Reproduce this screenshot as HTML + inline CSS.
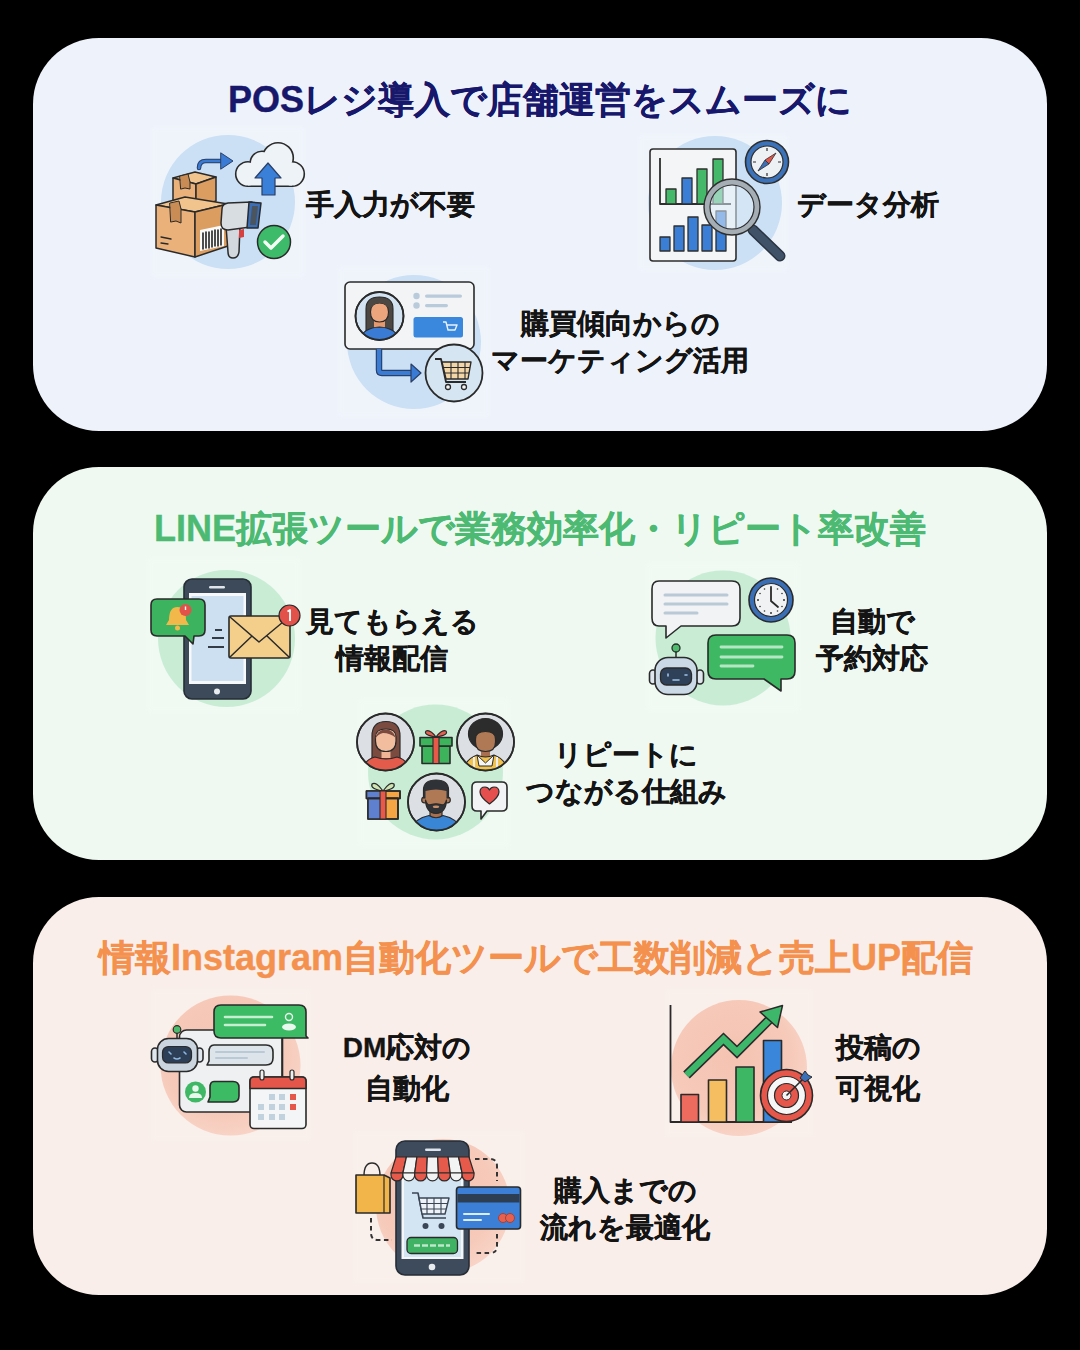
<!DOCTYPE html>
<html lang="ja">
<head>
<meta charset="utf-8">
<style>
html,body{margin:0;padding:0;background:#000;}
body{width:1080px;height:1350px;position:relative;overflow:hidden;font-family:"Liberation Sans",sans-serif;}
.panel{position:absolute;left:33px;width:1014px;border-radius:66px;}
#p1{top:38px;height:393px;background:#eef3fb;}
#p2{top:467px;height:393px;background:#eff9f1;}
#p3{top:897px;height:398px;background:#f9eee9;}
.title{position:absolute;left:0;width:1080px;text-align:center;font-size:36px;font-weight:700;-webkit-text-stroke:0.4px currentColor;line-height:40px;white-space:nowrap;}
.lbl{position:absolute;font-size:28px;font-weight:700;line-height:37px;color:#141414;-webkit-text-stroke:0.3px #141414;text-align:center;white-space:nowrap;}
svg#art{position:absolute;left:0;top:0;}
</style>
</head>
<body>
<div class="panel" id="p1"></div>
<div class="panel" id="p2"></div>
<div class="panel" id="p3"></div>

<svg id="art" width="1080" height="1350" viewBox="0 0 1080 1350">
<defs>
<radialGradient id="gs" cx="0.45" cy="0.42" r="0.6"><stop offset="0" stop-color="#f5c3b2"/><stop offset="0.7" stop-color="#f6c9b9"/><stop offset="1" stop-color="#f8d4c7"/></radialGradient>
<filter id="sb" x="-20%" y="-20%" width="140%" height="140%"><feGaussianBlur stdDeviation="2.5"/></filter>
</defs>
<g id="squares" fill="#ffffff" opacity="0.1" filter="url(#sb)">
<rect x="151" y="126" width="154" height="152"/>
<rect x="638" y="134" width="150" height="138"/>
<rect x="338" y="266" width="152" height="152"/>
<rect x="147" y="557" width="154" height="156"/>
<rect x="646" y="562" width="154" height="150"/>
<rect x="358" y="698" width="152" height="150"/>
<rect x="150" y="988" width="162" height="154"/>
<rect x="664" y="988" width="150" height="150"/>
<rect x="352" y="1130" width="174" height="154"/>
</g>
<g id="circles">
<circle cx="228" cy="202" r="67" fill="#cbe0f4"/>
<circle cx="715" cy="203" r="67" fill="#cbe0f4"/>
<circle cx="414" cy="342" r="67" fill="#cbe0f4"/>
<circle cx="226.5" cy="638.5" r="68.5" fill="#c8edd4"/>
<circle cx="723" cy="638" r="67.5" fill="#c8edd4"/>
<circle cx="435.5" cy="772" r="67.5" fill="#c8edd4"/>
<circle cx="230.5" cy="1065.5" r="70" fill="url(#gs)"/>
<circle cx="739" cy="1068" r="68" fill="url(#gs)"/>
<circle cx="443" cy="1206" r="67" fill="url(#gs)"/>
</g>
<!-- ICON P1-1: boxes/scanner/cloud -->
<g id="i11" stroke="#2a2a2a" stroke-width="1.5" stroke-linejoin="round" stroke-linecap="round">
  <!-- arrow -->
  <path d="M199,168 Q199,161 206,161 L223,161" fill="none" stroke="#2a3f66" stroke-width="4.6"/>
  <path d="M199,168 Q199,161 206,161 L223,161" fill="none" stroke="#3a7bd5" stroke-width="2.6" />
  <path d="M221,153 L233,161 L221,169 Z" fill="#3a7bd5" stroke="#2a3f66" stroke-width="1"/>
  <!-- cloud -->
  <g stroke="#2a2a2a" stroke-width="3.2">
    <circle cx="248" cy="174" r="11.5"/><circle cx="262" cy="163" r="11"/><circle cx="278" cy="158" r="14.5"/><circle cx="292" cy="174" r="11.5"/><rect x="248" y="168" width="44" height="17.5"/>
  </g>
  <g fill="#eef3f8" stroke="none">
    <circle cx="248" cy="174" r="11.5"/><circle cx="262" cy="163" r="11"/><circle cx="278" cy="158" r="14.5"/><circle cx="292" cy="174" r="11.5"/><rect x="248" y="168" width="44" height="17.5"/>
  </g>
  <path d="M255,178 L268,163 L281,178 L275,178 L275,195 L262,195 L262,178 Z" fill="#3a7fd8" stroke="#2a3f66" stroke-width="1.2"/>
  <!-- small box -->
  <path d="M173,178 L195,172 L216,177 L196,184 Z" fill="#f1c48d"/>
  <path d="M173,178 L196,184 L196,208 L173,202 Z" fill="#eab27a"/>
  <path d="M196,184 L216,177 L216,201 L196,208 Z" fill="#dc9d60"/>
  <path d="M180,176 L188,174 L190,182 L190,189 L185,188 L181,189 Z" fill="#c98c55" stroke-width="1"/>
  <!-- big box -->
  <path d="M156,205 L185,197 L228,204 L195,212 Z" fill="#f1c48d"/>
  <path d="M156,205 L195,212 L195,257 L156,248 Z" fill="#eab27a"/>
  <path d="M195,212 L228,204 L228,246 L195,257 Z" fill="#dc9d60"/>
  <path d="M170,203 L179,201 L181,209 L181,223 L176,221 L171,222 Z" fill="#c98c55" stroke-width="1"/>
  <path d="M161,237 L171,239 M161,243 L168,244" stroke-width="1.3"/>
  <path d="M200,230 L224,225 L224,246 L200,251 Z" fill="#fafafa" stroke="none"/>
  <path d="M203,233 V249 M206,232 V248 M209,232 V248 M212,231 V247 M215,230 V246 M218,230 V246 M221,229 V245" stroke="#222" stroke-width="1.6"/>
  <!-- scanner -->
  <path d="M226,226 L240,226 L239,252 Q238,258 233,258 Q228,258 228,252 Z" fill="#d3d8de"/>
  <path d="M239,230 L244,229 L244,237 L239,238 Z" fill="#d64040" stroke="none"/>
  <path d="M222,209 Q222,204 228,203 L252,202 L258,226 L228,230 Q221,230 221,223 Z" fill="#d8dde2"/>
  <path d="M249,202 L261,203 L258,228 L247,228 Z" fill="#3b6fb8"/>
  <path d="M252,206 L258,206 L256,225 L250,225 Z" fill="#4a5560" stroke="none"/>
  <!-- check -->
  <circle cx="274" cy="242" r="16.5" fill="#3dba6a"/>
  <path d="M265,242 L271,248 L283,236" fill="none" stroke="#f4fff6" stroke-width="3.5"/>
</g>

<!-- ICON P1-2: data analysis -->
<g id="i12" stroke="#2e2e2e" stroke-width="1.6" stroke-linejoin="round">
  <rect x="650" y="149" width="86" height="112" rx="3" fill="#f4f5f6"/>
  <path d="M660,158 V204 H731" fill="none" stroke-width="1.8"/>
  <g stroke-width="1.3">
    <rect x="666" y="189" width="10" height="15" fill="#45b86a"/>
    <rect x="682" y="178" width="10" height="26" fill="#3a7fd5"/>
    <rect x="697" y="169" width="10" height="35" fill="#45b86a"/>
    <rect x="713" y="159" width="10" height="45" fill="#45b86a"/>
    <rect x="660" y="237" width="10" height="14" fill="#3a7fd5"/>
    <rect x="674" y="226" width="10" height="25" fill="#3a7fd5"/>
    <rect x="688" y="217" width="10" height="34" fill="#3a7fd5"/>
    <rect x="702" y="225" width="10" height="26" fill="#3a7fd5"/>
    <rect x="716" y="211" width="10" height="40" fill="#3a7fd5"/>
  </g>
  <!-- compass -->
  <circle cx="767" cy="162" r="21.5" fill="#3c72b8" stroke-width="1.6"/>
  <circle cx="767" cy="162" r="16" fill="#eef1f4" stroke-width="1.2"/>
  <path d="M767,148 V151 M767,173 V176 M753,162 H756 M778,162 H781" stroke-width="1.2"/>
  <path d="M776,153 L769,164 L765,160 Z" fill="#e0574a" stroke-width="0.8"/>
  <path d="M758,171 L765,160 L769,164 Z" fill="#3c6fb5" stroke-width="0.8"/>
  <!-- magnifier -->
  <path d="M753,230 L780,256" stroke="#2a3442" stroke-width="11" stroke-linecap="round"/>
  <path d="M753,230 L780,256" stroke="#3f5268" stroke-width="8" stroke-linecap="round"/>
  <circle cx="732" cy="207" r="25" fill="rgba(220,235,248,0.55)" stroke="#a5adb5" stroke-width="6"/>
  <circle cx="732" cy="207" r="28" fill="none" stroke-width="1.4"/>
  <circle cx="732" cy="207" r="22" fill="none" stroke-width="1.2"/>
</g>

<!-- ICON P1-3: customer card -->
<g id="i13" stroke="#2a2a2a" stroke-width="1.6" stroke-linejoin="round">
  <rect x="345" y="282" width="129" height="67" rx="5" fill="#f2f4f6"/>
  <clipPath id="cp13"><circle cx="379.5" cy="316" r="24"/></clipPath>
  <circle cx="379.5" cy="316" r="24" fill="#d3e3f2"/>
  <g clip-path="url(#cp13)" stroke-width="1.1">
    <path d="M366,331 V309 Q366,297 379.5,297 Q393,297 393,309 V331 Z" fill="#4d4743"/>
    <path d="M374,319 H385 V329 H374 Z" fill="#e39a70" stroke="none"/>
    <path d="M370.5,312 Q370.5,303 379.5,303 Q388.5,303 388.5,312 Q388.5,322 379.5,322 Q370.5,322 370.5,312 Z" fill="#eca57c"/>
    <path d="M370,309 Q372,299 380,300 Q387,300 389,309 Q385,303 380,303 Q374,303 370,309 Z" fill="#4d4743" stroke="none"/>
    <path d="M358,345 Q360,328 379.5,327 Q399,328 401,345 Z" fill="#3a7bd5"/>
  </g>
  <circle cx="379.5" cy="316" r="24" fill="none" stroke-width="1.8"/>
  <g stroke="none" fill="#b9cadb">
    <circle cx="416.5" cy="296" r="3.2"/><rect x="425" y="294.5" width="37" height="3.2" rx="1.6"/>
    <circle cx="416.5" cy="305.5" r="3.2"/><rect x="425" y="304" width="23" height="3.2" rx="1.6"/>
  </g>
  <rect x="413.5" y="317" width="49.5" height="20.5" rx="2.5" fill="#3a87de" stroke="none"/>
  <path d="M443,322 L446,322 L448,330 L455,330 L457,325 L447,325" fill="none" stroke="#e8f2fc" stroke-width="1.4"/>
  <!-- arrow -->
  <path d="M379,349 V370 Q379,373 382,373 H413" fill="none" stroke="#2a3f66" stroke-width="6.5"/>
  <path d="M379,349 V370 Q379,373 382,373 H413" fill="none" stroke="#3a7bd5" stroke-width="4.2"/>
  <path d="M411,364 L421,373 L411,382 Z" fill="#3a7bd5" stroke="#2a3f66" stroke-width="1.2"/>
  <!-- cart circle -->
  <circle cx="454" cy="373" r="28.5" fill="#d6e5f2" stroke-width="1.8"/>
  <path d="M435,359 H441 L446,382 H466" fill="none" stroke-width="1.8"/>
  <path d="M442,362 H471 L468,379 H446 Z" fill="#f2d6a8" stroke-width="1.4"/>
  <path d="M443,367.5 H470 M444,373 H469 M451,362 V379 M458,362 V379 M465,362 V379" stroke-width="1.1"/>
  <circle cx="448" cy="387" r="2.5" fill="#f4f4f4" stroke-width="1.3"/>
  <circle cx="464" cy="387" r="2.5" fill="#f4f4f4" stroke-width="1.3"/>
</g>
<!-- ICON P2-1: phone + notifications -->
<g id="i21" stroke="#2a2a2a" stroke-width="1.6" stroke-linejoin="round">
  <rect x="184" y="579" width="67" height="120" rx="8" fill="#3d4a5a" stroke="#262d36"/>
  <rect x="189" y="593" width="57" height="91" fill="#f6f8fa" stroke="none"/>
  <rect x="191.5" y="596" width="52" height="85" fill="#cde0f2" stroke="none"/>
  <rect x="209" y="586" width="16" height="2.5" rx="1.2" fill="#dfe5ea" stroke="none"/>
  <circle cx="217" cy="691.5" r="3" fill="#e8ecef" stroke="none"/>
  <path d="M215,630 H222 M212,638 H224 M208,647 H224" stroke="#333b45" stroke-width="1.8"/>
  <!-- green bubble -->
  <path d="M157,599 H199 Q205,599 205,605 V630 Q205,636 199,636 H194 L193,644 L185,636 H157 Q151,636 151,630 V605 Q151,599 157,599 Z" fill="#3cb35e"/>
  <path d="M169,620 Q169,607 177.5,607 Q186,607 186,620 L189,625 H166 Z" fill="#f2b94a" stroke="none"/>
  <circle cx="177.5" cy="628" r="2.5" fill="#f2b94a" stroke="none"/>
  <circle cx="185.5" cy="610" r="6" fill="#e2524a" stroke="none"/>
  <path d="M185.5,606.5 V610" stroke="#fff" stroke-width="1.4"/>
  <!-- envelope -->
  <rect x="229" y="616" width="61" height="42" rx="2" fill="#f4cf8b"/>
  <path d="M230,617 L259,642 L289,617 M230,657 L252,636 M289,657 L267,636" fill="none" stroke-width="1.5"/>
  <circle cx="289.5" cy="615.5" r="10.5" fill="#e2524a" stroke-width="1.2"/>
  <path d="M287.5,611.5 L290,610 V621" fill="none" stroke="#fff" stroke-width="1.8"/>
</g>

<!-- ICON P2-2: chat bubbles + robot + clock -->
<g id="i22" stroke="#2a2a2a" stroke-width="1.6" stroke-linejoin="round">
  <path d="M659,581 H732 Q740,581 740,589 V618 Q740,626 732,626 H681 L666,638 L666,626 H659 Q652,626 652,618 V589 Q652,581 659,581 Z" fill="#f1f3f5"/>
  <g stroke="#b9c9d5" stroke-width="3" stroke-linecap="round">
    <path d="M665,595 H727 M665,604 H727 M665,613 H697"/>
  </g>
  <!-- clock -->
  <circle cx="771" cy="600" r="22" fill="#3b6fb5"/>
  <circle cx="771" cy="600" r="16.5" fill="#f0f2f4" stroke-width="1.2"/>
  <path d="M771,588 V601 L778,607" fill="none" stroke-width="1.8" stroke-linecap="round"/>
  <g fill="#333" stroke="none">
    <circle cx="771" cy="587" r="1"/><circle cx="771" cy="613" r="1"/><circle cx="758" cy="600" r="1"/><circle cx="784" cy="600" r="1"/>
    <circle cx="764.5" cy="589" r="0.8"/><circle cx="777.5" cy="589" r="0.8"/><circle cx="764.5" cy="611" r="0.8"/><circle cx="777.5" cy="611" r="0.8"/>
    <circle cx="760" cy="593.5" r="0.8"/><circle cx="782" cy="593.5" r="0.8"/><circle cx="760" cy="606.5" r="0.8"/><circle cx="782" cy="606.5" r="0.8"/>
  </g>
  <!-- green bubble -->
  <path d="M716,635 H787 Q795,635 795,643 V671 Q795,679 787,679 H781 L781,691 L764,679 H716 Q708,679 708,671 V643 Q708,635 716,635 Z" fill="#3eb862"/>
  <g stroke="#b5e6c3" stroke-width="2.8" stroke-linecap="round">
    <path d="M721,647 H782 M721,657 H782 M721,666 H753"/>
  </g>
  <!-- robot -->
  <path d="M676,657 V650" stroke-width="1.5"/>
  <circle cx="676" cy="648" r="4" fill="#4cbb6c" stroke-width="1.3"/>
  <rect x="649.5" y="670" width="7" height="14" rx="3.5" fill="#dfe6ee"/>
  <rect x="696.5" y="670" width="7" height="14" rx="3.5" fill="#dfe6ee"/>
  <rect x="655" y="657.5" width="42" height="37" rx="13" fill="#cbd8e6"/>
  <rect x="660.5" y="668" width="31" height="17" rx="6" fill="#2f4159" stroke-width="1.3"/>
  <path d="M668,674 V676 M685,675 H687 M673,680 H679" stroke="#9fc3e8" stroke-width="1.6" stroke-linecap="round"/>
</g>

<!-- ICON P2-3: people + gifts -->
<g id="i23" stroke="#2a2a2a" stroke-width="1.6" stroke-linejoin="round">
  <defs>
    <clipPath id="cw"><circle cx="385.5" cy="742" r="28.5"/></clipPath>
    <clipPath id="ca"><circle cx="485.5" cy="742" r="28.5"/></clipPath>
    <clipPath id="cb"><circle cx="436.5" cy="802" r="28.5"/></clipPath>
  </defs>
  <!-- woman -->
  <circle cx="385.5" cy="742" r="28.5" fill="#dcdfe3"/>
  <g clip-path="url(#cw)" stroke-width="1.2">
    <path d="M372,760 V736 Q372,721.5 386,721.5 Q400,721.5 400,736 V760 Z" fill="#7b4b40"/>
    <path d="M381.5,749 H390.5 V758 H381.5 Z" fill="#f0b596" stroke="none"/>
    <path d="M375.5,737 Q375.5,729 386,729 Q396,729 396,737 V741 Q396,751.5 386,751.5 Q375.5,751.5 375.5,741 Z" fill="#f2bd9e"/>
    <path d="M375,739 Q377,730 385,729.5 Q393,729 396,738 Q390,733 383,733 Q378,734 375,739 Z" fill="#7b4b40" stroke="none"/>
    <path d="M360,778 Q362,760 375,757 Q386,761 397,757 Q410,760 412,778 Z" fill="#e35b4b"/>
  </g>
  <circle cx="385.5" cy="742" r="28.5" fill="none" stroke-width="1.8"/>
  <!-- gift 1 -->
  <path d="M436,737 Q430,729 426,731 Q423,735 436,737 Q449,735 446,731 Q442,729 436,737 Z" fill="#e86050" stroke-width="1.2"/>
  <rect x="422" y="746" width="28" height="17.5" fill="#3db35c"/>
  <rect x="420" y="737.5" width="32" height="8.5" fill="#3db35c"/>
  <rect x="433" y="737.5" width="6" height="26" fill="#e8594a" stroke-width="1.1"/>
  <!-- afro man -->
  <circle cx="485.5" cy="742" r="28.5" fill="#dcdfe3"/>
  <g clip-path="url(#ca)" stroke-width="1.2">
    <ellipse cx="485.5" cy="734" rx="17" ry="15.5" fill="#2c2c2c"/>
    <path d="M481,748 H490 V757 H481 Z" fill="#a87050" stroke="none"/>
    <path d="M475.5,739 Q475.5,731.5 485.5,731.5 Q495.5,731.5 495.5,739 V742 Q495.5,751.5 485.5,751.5 Q475.5,751.5 475.5,742 Z" fill="#b07955"/>
    <path d="M461,778 Q463,760 477,755 Q485.5,759 494,755 Q508,760 510,778 Z" fill="#f1c24d"/>
    <path d="M477,755 L485.5,763 L494,755 L492,766 H479 Z" fill="#f6f6f6" stroke-width="1"/>
    <path d="M474,757 V778 M497,757 V778" stroke="#eeeeee" stroke-width="2"/>
  </g>
  <circle cx="485.5" cy="742" r="28.5" fill="none" stroke-width="1.8"/>
  <!-- gift 2 -->
  <path d="M383,791 Q376,781 372,784 Q370,789 383,791 Q396,789 394,784 Q390,781 383,791 Z" fill="#cfe4b0" stroke-width="1.2"/>
  <rect x="368" y="798" width="30" height="21" fill="#f5a544"/>
  <rect x="368" y="798" width="12" height="21" fill="#5f80cf" stroke="none"/>
  <rect x="366.5" y="791" width="33.5" height="7.5" fill="#f5a544"/>
  <rect x="366.5" y="791" width="13" height="7.5" fill="#5f80cf" stroke="none"/>
  <rect x="366.5" y="791" width="33.5" height="7.5" fill="none"/>
  <rect x="368" y="798" width="30" height="21" fill="none"/>
  <rect x="380" y="791" width="6" height="28" fill="#e8594a" stroke-width="1.1"/>
  <!-- bearded man -->
  <circle cx="436.5" cy="802" r="28.5" fill="#dcdfe3"/>
  <g clip-path="url(#cb)" stroke-width="1.2">
    <path d="M430,809 H442 V819 H430 Z" fill="#a87050"/>
    <circle cx="424.5" cy="800" r="2.8" fill="#b07955"/>
    <circle cx="447.5" cy="800" r="2.8" fill="#b07955"/>
    <path d="M423.5,798 V790 Q423.5,780 436,780 Q448.5,780 448.5,790 V798 Z" fill="#2f3237"/>
    <path d="M425.5,791 Q436,788 446.5,791 V802 Q446.5,812 436,812 Q425.5,812 425.5,802 Z" fill="#b07955" stroke="none"/>
    <path d="M425.5,800 Q426,813 436,813.5 Q446,813 446.5,800 Q445,806 441,804.5 Q436,803 431,804.5 Q427,806 425.5,800 Z" fill="#2f3237"/>
    <ellipse cx="436" cy="806.8" rx="3.2" ry="1.3" fill="#c9906a" stroke="none"/>
    <path d="M407,840 Q410,819 429,815.5 Q436,820 443,815.5 Q462,819 465,840 Z" fill="#3a86d6"/>
  </g>
  <circle cx="436.5" cy="802" r="28.5" fill="none" stroke-width="1.8"/>
  <!-- heart bubble -->
  <path d="M477,782 H502 Q507,782 507,787 V806 Q507,811 502,811 H487 L481,819 L481,811 H477 Q472,811 472,806 V787 Q472,782 477,782 Z" fill="#f2f3f5"/>
  <path d="M489.5,804 Q480,797 480,792 Q480,787 485,787 Q488,787 489.5,790 Q491,787 494,787 Q499,787 499,792 Q499,797 489.5,804 Z" fill="#e5504e" stroke-width="1.2"/>
</g>
<!-- ICON P3-1: DM automation -->
<g id="i31" stroke="#2a2a2a" stroke-width="1.6" stroke-linejoin="round">
  <rect x="179.5" y="1030" width="103" height="82" rx="7" fill="#eef0f2"/>
  <path d="M282,1036 V1077" stroke-width="1.6"/>
  <!-- top green bubble -->
  <path d="M221,1005 H299 Q306,1005 306,1012 V1036 L308,1038 H221 Q214,1038 214,1031 V1012 Q214,1005 221,1005 Z" fill="#3dba64"/>
  <path d="M225,1017 H272 M225,1025 H265" stroke="#c6efd2" stroke-width="2.6" stroke-linecap="round"/>
  <circle cx="289" cy="1017" r="3.5" fill="none" stroke="#e9f9ee" stroke-width="1.4"/>
  <ellipse cx="289" cy="1027" rx="7" ry="3.5" fill="#e9f9ee" stroke="none"/>
  <!-- gray bubble -->
  <path d="M214,1045 H266 Q273,1045 273,1052 V1058 Q273,1065 266,1065 H207 L209,1061 V1052 Q209,1045 214,1045 Z" fill="#dde4ea"/>
  <path d="M216,1052 H264 M216,1058 H247" stroke="#b9c9d7" stroke-width="2" stroke-linecap="round"/>
  <!-- avatar -->
  <circle cx="195.5" cy="1092" r="10.5" fill="#3fb865" stroke="none"/>
  <circle cx="195.5" cy="1088.5" r="3.2" fill="#e8f8ec" stroke="none"/>
  <path d="M189,1098 Q189,1093 195.5,1093 Q202,1093 202,1098 Z" fill="#e8f8ec" stroke="none"/>
  <!-- small green bubble -->
  <path d="M214,1081.5 H233 Q239,1081.5 239,1087.5 V1096 Q239,1102 233,1102 H208 L210,1097 V1087.5 Q210,1081.5 214,1081.5 Z" fill="#3dba64"/>
  <!-- robot -->
  <path d="M177,1038 V1031" stroke-width="1.5"/>
  <circle cx="177" cy="1029.5" r="3.8" fill="#4cbb6c" stroke-width="1.2"/>
  <rect x="151.5" y="1048" width="7" height="14" rx="3.5" fill="#dfe6ee"/>
  <rect x="196" y="1048" width="7" height="14" rx="3.5" fill="#dfe6ee"/>
  <rect x="157.5" y="1038.5" width="40" height="33" rx="11" fill="#cbd5df"/>
  <rect x="162.5" y="1046.5" width="29" height="16.5" rx="6" fill="#2d3f57" stroke-width="1.2"/>
  <path d="M169,1052 L171,1054 M184,1052 L186,1054 M174,1058 Q177,1060 180,1058" fill="none" stroke="#8fb8e0" stroke-width="1.6" stroke-linecap="round"/>
  <!-- calendar -->
  <rect x="250" y="1077" width="56" height="51.5" rx="4" fill="#f4f5f6"/>
  <path d="M250,1088.5 V1081 Q250,1077 254,1077 H302 Q306,1077 306,1081 V1088.5 Z" fill="#e5564a"/>
  <rect x="260" y="1070" width="4" height="10" rx="2" fill="#eee" stroke-width="1.2"/>
  <rect x="290" y="1070" width="4" height="10" rx="2" fill="#eee" stroke-width="1.2"/>
  <g stroke="none" fill="#c1d1de">
    <rect x="269" y="1094" width="6" height="6"/><rect x="279" y="1094" width="6" height="6"/>
    <rect x="258" y="1104" width="6" height="6"/><rect x="269" y="1104" width="6" height="6"/><rect x="279" y="1104" width="6" height="6"/>
    <rect x="258" y="1114" width="6" height="6"/><rect x="269" y="1114" width="6" height="6"/><rect x="279" y="1114" width="6" height="6"/>
  </g>
  <g stroke="none" fill="#e5574b">
    <rect x="290" y="1094" width="6" height="6"/><rect x="290" y="1104" width="6" height="6"/>
  </g>
</g>

<!-- ICON P3-2: growth chart + target -->
<g id="i32" stroke="#2a2a2a" stroke-width="1.6" stroke-linejoin="round">
  <path d="M670.5,1005 V1122 H792" fill="none" stroke-width="1.8"/>
  <rect x="681" y="1094.5" width="17.5" height="27.5" fill="#ec6a5e"/>
  <rect x="708.5" y="1080" width="18" height="42" fill="#f5be60"/>
  <rect x="736" y="1067" width="18" height="55" fill="#3eb765"/>
  <rect x="763.5" y="1040.5" width="18" height="81.5" fill="#3a86db"/>
  <!-- arrow -->
  <path d="M686.5,1075 L723.5,1039 L737,1052 L770,1019" fill="none" stroke="#2a2a2a" stroke-width="9.5" stroke-linejoin="miter" stroke-linecap="butt"/>
  <path d="M686.5,1075 L723.5,1039 L737,1052 L770,1019" fill="none" stroke="#3db86a" stroke-width="6.5" stroke-linejoin="miter" stroke-linecap="butt"/>
  <path d="M760,1012 L782.5,1005.5 L777.5,1027.5 Z" fill="#3db86a" stroke-width="1.5"/>
  <!-- target -->
  <circle cx="786.5" cy="1095.5" r="26" fill="#e5574b"/>
  <circle cx="786.5" cy="1095.5" r="19" fill="#f6f6f6" stroke-width="1.2"/>
  <circle cx="786.5" cy="1095.5" r="12" fill="#e5574b" stroke-width="1.2"/>
  <circle cx="786.5" cy="1095.5" r="4.5" fill="#f3f3f3" stroke-width="1"/>
  <path d="M786.5,1095.5 L803,1079" stroke-width="1.6"/>
  <path d="M800,1078 L805,1071 L808,1075 L812,1077 L805,1082 Z" fill="#3a70b8" stroke-width="1"/>
</g>

<!-- ICON P3-3: shopping phone -->
<g id="i33" stroke="#2a2a2a" stroke-width="1.6" stroke-linejoin="round">
  <g fill="none" stroke="#333" stroke-width="2" stroke-dasharray="4.5 3.5">
    <path d="M371,1218 V1233 Q371,1240 378,1240 H392"/>
    <path d="M475,1159 H490 Q497,1159 497,1166 V1181"/>
    <path d="M497,1234 V1246 Q497,1253 490,1253 H474"/>
  </g>
  <rect x="396" y="1141" width="73" height="134" rx="9" fill="#3d4b5c" stroke="#262d36"/>
  <rect x="401.5" y="1172" width="62" height="87" fill="#f4f6f8" stroke="none"/>
  <rect x="404" y="1175" width="57" height="82" fill="#d3e4f2" stroke="none"/>
  <rect x="425" y="1148.5" width="16" height="2.5" rx="1.2" fill="#dfe5ea" stroke="none"/>
  <circle cx="432" cy="1267" r="3.3" fill="#e8ecef" stroke="none"/>
  <!-- awning -->
  <g stroke-width="1.2">
    <path d="M396.0,1157 H406.4 L402.9,1173 H391.0 Z" fill="#e55a4a"/>
    <path d="M406.4,1157 H416.9 L414.7,1173 H402.9 Z" fill="#f3f3f3"/>
    <path d="M416.9,1157 H427.3 L426.6,1173 H414.7 Z" fill="#e55a4a"/>
    <path d="M427.3,1157 H437.7 L438.4,1173 H426.6 Z" fill="#f3f3f3"/>
    <path d="M437.7,1157 H448.1 L450.3,1173 H438.4 Z" fill="#e55a4a"/>
    <path d="M448.1,1157 H458.6 L462.1,1173 H450.3 Z" fill="#f3f3f3"/>
    <path d="M458.6,1157 H469.0 L474.0,1173 H462.1 Z" fill="#e55a4a"/>
    <path d="M391.0,1173 H402.9 V1175 A5.9,5.9 0 0 1 391.0,1175 Z" fill="#e55a4a"/>
    <path d="M402.9,1173 H414.7 V1175 A5.9,5.9 0 0 1 402.9,1175 Z" fill="#f3f3f3"/>
    <path d="M414.7,1173 H426.6 V1175 A5.9,5.9 0 0 1 414.7,1175 Z" fill="#e55a4a"/>
    <path d="M426.6,1173 H438.4 V1175 A5.9,5.9 0 0 1 426.6,1175 Z" fill="#f3f3f3"/>
    <path d="M438.4,1173 H450.3 V1175 A5.9,5.9 0 0 1 438.4,1175 Z" fill="#e55a4a"/>
    <path d="M450.3,1173 H462.1 V1175 A5.9,5.9 0 0 1 450.3,1175 Z" fill="#f3f3f3"/>
    <path d="M462.1,1173 H474.0 V1175 A5.9,5.9 0 0 1 462.1,1175 Z" fill="#e55a4a"/>
  </g>
  <!-- cart -->
  <path d="M412,1193 H418 L423,1218 H446" fill="none" stroke="#3a4656" stroke-width="1.6"/>
  <path d="M419,1198 H449 L445,1214 H422 Z" fill="#eef3f7" stroke="#3a4656" stroke-width="1.4"/>
  <path d="M420,1203.5 H448 M421,1209 H446 M427,1198 V1214 M434,1198 V1214 M441,1198 V1214" stroke="#3a4656" stroke-width="1.1"/>
  <circle cx="425.5" cy="1226" r="3" fill="#3a4656" stroke="none"/>
  <circle cx="441.5" cy="1226" r="3" fill="#3a4656" stroke="none"/>
  <!-- green button -->
  <rect x="407" y="1237.5" width="50.5" height="16" rx="4" fill="#3fb263" stroke-width="1.3"/>
  <path d="M414,1245.5 H450" stroke="#bfe8cb" stroke-width="2.5" stroke-dasharray="6 2"/>
  <!-- bag -->
  <path d="M364,1176 Q364,1163 372,1163 Q380,1163 380,1176" fill="none" stroke-width="1.4"/>
  <path d="M356,1175 H384 L390,1178 V1213 H356 Z" fill="#f2b54a"/>
  <path d="M384,1175 V1213" stroke-width="1.2"/>
  <!-- credit card -->
  <rect x="456.5" y="1187" width="64" height="42" rx="3" fill="#3b80d6"/>
  <rect x="457.5" y="1194" width="62" height="8.5" fill="#2e3e52" stroke="none"/>
  <path d="M464,1214 H489 M464,1220 H481" stroke="#dcecfb" stroke-width="2" stroke-linecap="round"/>
  <circle cx="503" cy="1218" r="4.5" fill="#e8604e" stroke="#a84034" stroke-width="1"/>
  <circle cx="510" cy="1218" r="4.5" fill="#e8604e" stroke="#a84034" stroke-width="1"/>
</g>
</svg>

<div class="title" style="top:80px;color:#17176c;">POSレジ導入で店舗運営をスムーズに</div>
<div class="title" style="top:509px;color:#4cba72;">LINE拡張ツールで業務効率化・リピート率改善</div>
<div class="title" style="top:938px;color:#f4914f;left:-4px;">情報Instagram自動化ツールで工数削減と売上UP配信</div>

<div class="lbl" style="left:290px;width:200px;top:186px;">手入力が不要</div>
<div class="lbl" style="left:768px;width:200px;top:186px;">データ分析</div>
<div class="lbl" style="left:470px;width:300px;top:305px;">購買傾向からの<br>マーケティング活用</div>

<div class="lbl" style="left:292px;width:200px;top:603px;">見てもらえる<br>情報配信</div>
<div class="lbl" style="left:772px;width:200px;top:603px;">自動で<br>予約対応</div>
<div class="lbl" style="left:526px;width:200px;top:736px;">リピートに<br>つながる仕組み</div>

<div class="lbl" style="left:307px;width:200px;top:1027px;line-height:41px;">DM応対の<br>自動化</div>
<div class="lbl" style="left:778px;width:200px;top:1027px;line-height:41px;">投稿の<br>可視化</div>
<div class="lbl" style="left:525px;width:200px;top:1172px;">購入までの<br>流れを最適化</div>
</body>
</html>
